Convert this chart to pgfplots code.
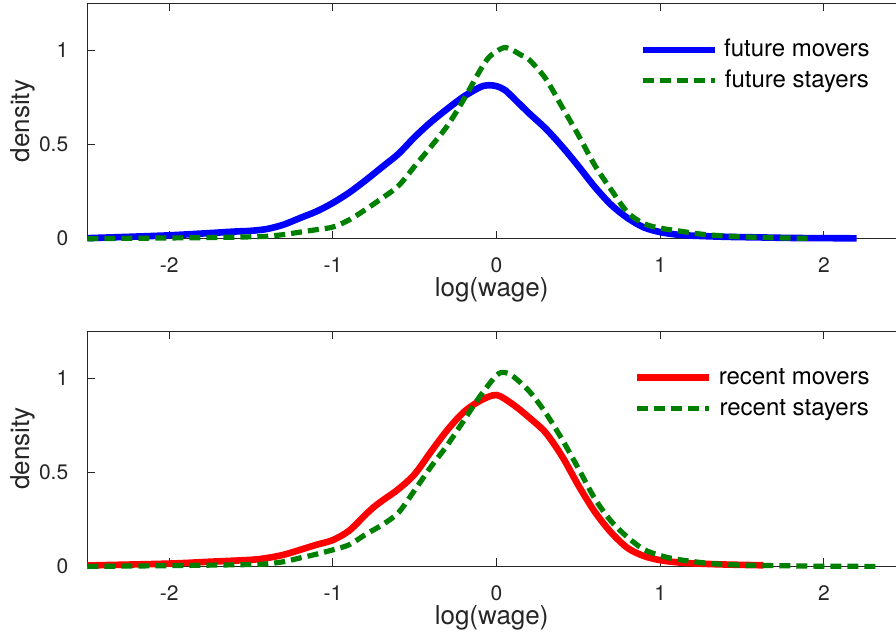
\documentclass[border=0pt]{standalone}
\usepackage{fontspec}
\setmainfont{TeX Gyre Heros}
\usepackage{pgfplots}
\pgfplotsset{compat=1.18}
\definecolor{mgreen}{rgb}{0,0.5,0}
\definecolor{axgray}{gray}{0.15}
\pgfplotsset{
  mystyle/.style={
    scale only axis, width=404.35pt, height=117.7pt,
    xmin=-2.5, xmax=2.44, ymin=0, ymax=1.25,
    axis x line=box, axis y line=left,
    axis line style={-, draw=axgray, line width=0.5pt},
    tick align=inside, major tick length=4pt,
    tick style={draw=axgray, line width=0.5pt},
    xtick={-2,-1,0,1,2}, xticklabels={-2,-1,0,1,2},
    ytick={0,0.5,1}, yticklabels={0,0.5,1},
    ticklabel style={font=\fontsize{10.5}{12}\selectfont, text=axgray},
    xticklabel style={yshift=-6pt},
    yticklabel style={xshift=-6pt},
    clip=false,
    xlabel={log(wage)}, ylabel={density},
    every axis x label/.style={at={(axis description cs:0.5,-0.2188)}, anchor=center, font=\fontsize{13}{15}\selectfont, text=axgray},
    every axis y label/.style={at={(axis description cs:-0.0791,0.5)}, rotate=90, anchor=center, font=\fontsize{13}{15}\selectfont, text=axgray},
    legend style={draw=none, fill=none, at={(axis description cs:0.968,0.853)}, anchor=north east,
      font=\fontsize{12}{14}\selectfont, row sep=4pt, column sep=3pt, inner sep=0pt,
      nodes={inner sep=0pt, text height=9pt, text depth=2.5pt}},
    legend image code/.code={\draw[#1] (0pt,0pt) -- (36pt,0pt);},
  },
  mover/.style={line width=3.3pt, smooth, tension=0.5},
  stayer/.style={draw=mgreen, line width=2.6pt, dash pattern=on 5.5pt off 3pt, smooth, tension=0.5},
}
\begin{document}
\begin{tikzpicture}
\begin{axis}[mystyle, at={(0,0)}, anchor=north west]
\addplot[mover, draw=blue] coordinates {
(-2.5,0.003) (-2.25,0.01) (-2.0,0.018) (-1.75,0.03) (-1.6,0.038) (-1.5,0.042) (-1.4,0.052)
(-1.3,0.075) (-1.2,0.11) (-1.1,0.145) (-1.0,0.19) (-0.9,0.245) (-0.8,0.31) (-0.7,0.38)
(-0.6,0.45) (-0.5,0.54) (-0.4,0.62) (-0.3,0.69) (-0.2,0.755) (-0.1,0.805) (-0.05,0.815)
(0.0,0.81) (0.05,0.79) (0.1,0.75) (0.2,0.665) (0.3,0.585) (0.4,0.49) (0.5,0.385)
(0.6,0.275) (0.7,0.18) (0.8,0.11) (0.9,0.06) (1.0,0.035) (1.1,0.022) (1.2,0.016)
(1.4,0.01) (1.6,0.007) (1.8,0.004) (2.0,0.003) (2.2,0.002)};
\addlegendentry{future movers}
\addplot[stayer] coordinates {
(-2.5,0.0) (-2.0,0.004) (-1.75,0.006) (-1.5,0.01) (-1.4,0.013) (-1.3,0.022) (-1.2,0.035)
(-1.1,0.048) (-1.0,0.062) (-0.9,0.10) (-0.8,0.155) (-0.7,0.215) (-0.6,0.28) (-0.5,0.385)
(-0.4,0.49) (-0.3,0.60) (-0.2,0.74) (-0.1,0.895) (-0.05,0.96) (0.0,0.995) (0.05,1.015)
(0.1,1.0) (0.15,0.975) (0.2,0.95) (0.3,0.85) (0.4,0.70) (0.5,0.55) (0.6,0.39) (0.7,0.26)
(0.8,0.14) (0.9,0.08) (1.0,0.056) (1.1,0.043) (1.2,0.03) (1.3,0.02) (1.5,0.01) (1.7,0.005)
(1.9,0.002)};
\addlegendentry{future stayers}
\end{axis}
\begin{axis}[mystyle, at={(0,-163.85pt)}, anchor=north west]
\addplot[mover, draw=red] coordinates {
(-2.5,0.005) (-2.0,0.015) (-1.75,0.025) (-1.5,0.035) (-1.4,0.045) (-1.3,0.062) (-1.2,0.088)
(-1.1,0.115) (-1.0,0.14) (-0.9,0.19) (-0.8,0.275) (-0.75,0.315) (-0.7,0.348) (-0.6,0.41)
(-0.5,0.49) (-0.4,0.61) (-0.3,0.725) (-0.2,0.82) (-0.1,0.88) (0.0,0.91) (0.1,0.86)
(0.2,0.79) (0.3,0.71) (0.4,0.585) (0.5,0.43) (0.6,0.29) (0.7,0.18) (0.8,0.098) (0.9,0.055)
(1.0,0.033) (1.1,0.022) (1.2,0.016) (1.4,0.01) (1.63,0.006)};
\addlegendentry{recent movers}
\addplot[stayer] coordinates {
(-2.5,0.0) (-2.0,0.004) (-1.5,0.01) (-1.4,0.014) (-1.3,0.025) (-1.2,0.045) (-1.1,0.065)
(-1.0,0.088) (-0.9,0.115) (-0.8,0.17) (-0.7,0.22) (-0.6,0.285) (-0.5,0.405) (-0.4,0.53)
(-0.3,0.645) (-0.2,0.775) (-0.1,0.905) (0.0,1.015) (0.05,1.03) (0.1,1.01) (0.2,0.93)
(0.3,0.815) (0.4,0.675) (0.5,0.52) (0.6,0.36) (0.7,0.24) (0.8,0.155) (0.9,0.09)
(1.0,0.058) (1.1,0.038) (1.3,0.016) (1.5,0.007) (1.8,0.003) (2.0,0.001) (2.35,0.0)};
\addlegendentry{recent stayers}
\end{axis}
\pgfresetboundingbox
\useasboundingbox (-43.65pt,-315.35pt) rectangle (404.35pt,1.65pt);
\end{tikzpicture}
\end{document}
